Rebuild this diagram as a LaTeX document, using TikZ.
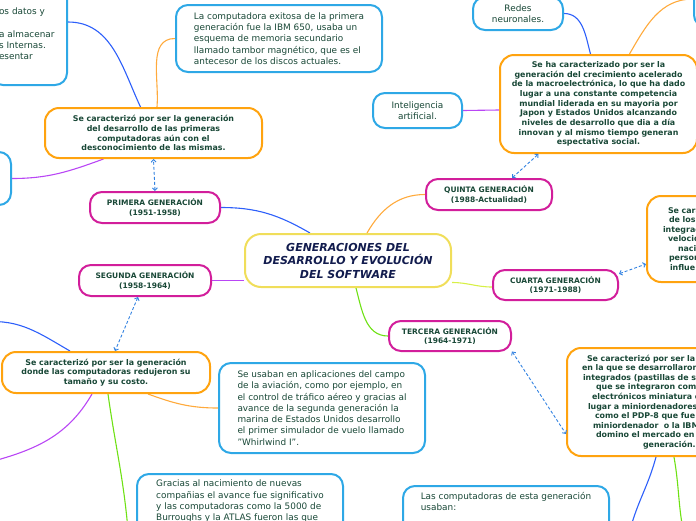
\documentclass[tikz,border=0pt]{standalone}
\usepackage{fontspec}
\setmainfont{DejaVu Sans}
\usetikzlibrary{arrows.meta,backgrounds}

\definecolor{cyanb}{RGB}{46,168,230}
\definecolor{orangeb}{RGB}{255,163,15}
\definecolor{magb}{RGB}{210,30,155}
\definecolor{yellowb}{RGB}{240,222,90}
\definecolor{bluel}{RGB}{45,95,250}
\definecolor{purpl}{RGB}{185,70,245}
\definecolor{greenl}{RGB}{110,225,20}
\definecolor{ygreenl}{RGB}{215,240,70}
\definecolor{orangel}{RGB}{255,170,60}
\definecolor{dashc}{RGB}{50,130,225}
\definecolor{txtc}{RGB}{25,72,55}
\definecolor{navy}{RGB}{18,28,78}

\begin{document}
\begin{tikzpicture}[x=1pt, y=-1pt,
  leaf/.style={draw=cyanb, line width=2pt, rounded corners=12pt, fill=white, text=txtc, align=left, font=\fontsize{8.9}{11.3}\selectfont},
  idea/.style={draw=orangeb, line width=2pt, rounded corners=14pt, fill=white, text=txtc, align=center, font=\bfseries\fontsize{7.9}{9.8}\selectfont},
  gen/.style={draw=magb, line width=2pt, rounded corners=12pt, fill=white, text=txtc, align=center, font=\bfseries\fontsize{7.5}{9.7}\selectfont},
  link/.style={dashc, line width=0.9pt, dash pattern=on 3pt off 2pt, {Straight Barb[length=2.5pt,width=5pt]}-{Straight Barb[length=2.5pt,width=5pt]}},
  wire/.style={line width=1.1pt}]
\path[use as bounding box] (0,0) rectangle (696,520);

% centro
\node[draw=yellowb, line width=2pt, rounded corners=16pt, fill=white, text=navy, align=center,
  font=\bfseries\itshape\fontsize{11}{13.5}\selectfont, minimum width=206pt, minimum height=53pt] (root) at (348,260.5)
  {GENERACIONES DEL\\DESARROLLO Y EVOLUCIÓN\\DEL SOFTWARE};

% generaciones
\node[gen, minimum width=130pt, minimum height=31pt] (prim) at (155,207.5) {PRIMERA GENERACIÓN\\(1951-1958)};
\node[gen, minimum width=132pt, minimum height=31pt] (segunda) at (145,280.5) {SEGUNDA GENERACIÓN\\(1958-1964)};
\node[gen, minimum width=122pt, minimum height=30pt] (tercera) at (450,336) {TERCERA GENERACIÓN\\(1964-1971)};
\node[gen, minimum width=125pt, minimum height=30pt] (cuarta) at (555.5,285) {CUARTA GENERACIÓN\\(1971-1988)};
\node[gen, minimum width=126pt, minimum height=31pt] (quinta) at (489,194.5) {QUINTA GENERACIÓN\\(1988-Actualidad)};

% caracteristicas
\node[idea, minimum width=217pt, minimum height=50pt] (ob1) at (153.5,133)
  {Se caracterizó por ser la generación\\del desarrollo de las primeras\\computadoras aún con el\\desconocimiento de las mismas.};
\node[idea, minimum width=208pt, minimum height=41pt] (ob2) at (106,372.5)
  {Se caracterizó por ser la generación\\donde las computadoras redujeron su\\tamaño y su costo.};
\node[idea, anchor=west, align=left, text width=160pt, inner xsep=15pt, minimum height=108pt, font=\bfseries\fontsize{7.9}{9.6}\selectfont] (ob3) at (566,402)
  {\hspace*{5pt}Se caracterizó por ser la\\
   en la que se desarrollaron\\
   \hspace*{1pt}integrados (pastillas de s\\
   \hspace*{14pt}que se integraron com\\
   \hspace*{10pt}electrónicos miniatura c\\
   \hspace*{6pt}lugar a miniordenadores\\
   \hspace*{13pt}como el PDP-8 que fue\\
   \hspace*{11pt}miniordenador\ \ o la IBM\\
   \hspace*{14pt}domino el mercado en\\
   \hspace*{61pt}generación.};
\node[idea, anchor=west, align=left, text width=100pt, inner xsep=16pt, minimum height=86pt, font=\bfseries\fontsize{7.9}{9.5}\selectfont] (ob4) at (646,239)
  {\hspace*{5pt}Se cara\\
   \hspace*{6pt}de los\\
   integrac\\
   \hspace*{5pt}velocid\\
   \hspace*{15pt}naci\\
   \hspace*{6pt}person\\
   \hspace*{7pt}influe};
\node[idea, minimum width=197pt, minimum height=98pt, font=\bfseries\fontsize{7.9}{9.7}\selectfont] (ob5) at (598.5,104)
  {Se ha caracterizado por ser la\\generación del crecimiento acelerado\\de la macroelectrónica, lo que ha dado\\lugar a una constante competencia\\mundial liderada en su mayoria por\\Japon y Estados Unidos alcanzando\\niveles de desarrollo que dia a día\\innovan y al mismo tiempo generan\\espectativa social.};

% detalles
\node[leaf, anchor=east, text width=60pt, inner xsep=8pt, minimum height=102pt] (tlbox) at (68,34)
  {os datos y\\\mbox{}\\a almacenar\\s Internas.\\esentar};
\node[leaf, minimum width=206pt, minimum height=67pt] (ibm) at (279,38.5)
  {La computadora exitosa de la primera\\generación fue la IBM 650, usaba un\\esquema de memoria secundario\\llamado tambor magnético, que es el\\antecesor de los discos actuales.};
\node[leaf, anchor=east, minimum width=80pt, minimum height=53pt] (lbox) at (12,178.5) {};
\node[leaf, align=center, minimum width=90pt, minimum height=33pt] (redes) at (518,13.5) {Redes\\neuronales.};
\node[leaf, align=center, minimum width=89pt, minimum height=35pt] (intel) at (417.5,110.5) {Inteligencia\\artificial.};
\node[leaf, anchor=north west, minimum width=80pt, minimum height=56pt] (trbox) at (693,-30) {};
\node[leaf, minimum width=206pt, minimum height=90pt] (usaban) at (322,408)
  {Se usaban en aplicaciones del campo\\de la aviación, como por ejemplo, en\\el control de tráfico aéreo y gracias al\\avance de la segunda generación la\\marina de Estados Unidos desarrollo\\el primer simulador de vuelo llamado\\"Whirlwind I".};
\node[leaf, anchor=north, minimum width=206pt, inner ysep=6pt] (gracias) at (240,473)
  {Gracias al nacimiento de nuevas\\compañias el avance fue significativo\\y las computadoras como la 5000 de\\Burroughs y la ATLAS fueron las que\\\rule{0pt}{30pt}};
\node[leaf, anchor=north, minimum width=206pt, inner ysep=6pt] (lascomp) at (506,485)
  {Las computadoras de esta generación\\usaban:\\\rule{0pt}{40pt}};

\coordinate (offA) at (-15,322);
\coordinate (offB) at (-10,462);
\coordinate (offC) at (128,530);
\coordinate (offD) at (630,530);
\coordinate (offE) at (683,530);

\begin{scope}[on background layer]
\draw[wire, bluel] ([yshift=12pt]tlbox.east) to[out=0,in=115] ([xshift=-13pt]ob1.north);
\draw[wire, orangel] ([xshift=3.5pt]ob1.north) to[out=85,in=180] (ibm.west);
\draw[wire, purpl] (lbox.east) to[out=0,in=200] ([xshift=-50pt]ob1.south);
\draw[wire, bluel] (prim.east) to[out=0,in=150] ([xshift=-38pt]root.north);
\draw[wire, orangel] ([xshift=19pt]root.north) to[out=60,in=180] (quinta.west);
\draw[wire, ygreenl] ([yshift=-22pt]root.east) to[out=0,in=180] ([yshift=-2pt]cuarta.west);
\draw[wire, greenl] ([xshift=8pt]root.south) to[out=-75,in=180] (tercera.west);
\draw[wire, purpl] ([yshift=-20pt]root.west) to[out=180,in=0] (segunda.east);
\draw[wire, bluel] (offA) to[out=5,in=150] ([xshift=-36pt]ob2.north);
\draw[wire, purpl] ([xshift=-14pt]ob2.south) to[out=-120,in=15] (offB);
\draw[wire, greenl] ([xshift=2pt]ob2.south) to[out=-82,in=95] (offC);
\draw[wire, orangel] ([xshift=42pt]ob2.south) to[out=-20,in=180] (usaban.west);
\draw[wire, purpl] (intel.east) -- ([yshift=-6pt]ob5.west);
\draw[wire, bluel] (redes.east) to[out=0,in=105] ([xshift=-8pt]ob5.north);
\draw[wire, orangel] ([xshift=31pt]ob5.north) to[out=60,in=180] (trbox.west);
\draw[wire, bluel] ([xshift=-6pt]ob3.south) to[out=-105,in=75] (offD);
\draw[wire, greenl] ([xshift=12pt]ob3.south) to[out=-80,in=100] (offE);
\end{scope}

\draw[link] (prim.north) -- (ob1.south);
\draw[link] ([xshift=-7pt]segunda.south) -- ([xshift=9pt]ob2.north);
\draw[link] ([xshift=23pt]quinta.north) -- ([xshift=-60pt]ob5.south);
\draw[link] (cuarta.10) -- ([yshift=-25pt]ob4.west);
\draw[link] (tercera.-14) -- ([yshift=-32pt]ob3.west);
\end{tikzpicture}
\end{document}
